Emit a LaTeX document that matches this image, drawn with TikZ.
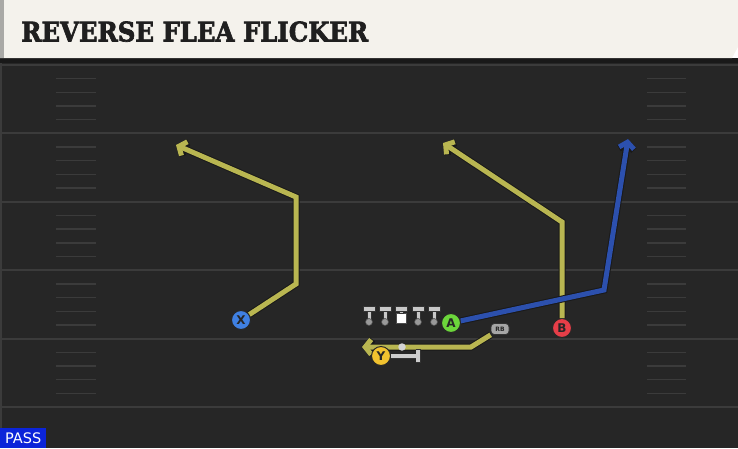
\documentclass[tikz,border=0pt]{standalone}
\usepackage{graphicx}
\usepackage{fontspec}
\setmainfont{DejaVu Serif}
\setsansfont{DejaVu Sans}
\newfontfamily\titlefont{DejaVu Serif Bold}[FakeBold=2.5]
\usetikzlibrary{arrows.meta, positioning}

\definecolor{headbg}{HTML}{F4F2EC}
\definecolor{headbar}{HTML}{A9A9A6}
\definecolor{fieldbg}{HTML}{262626}
\definecolor{fieldline}{HTML}{3B3B3B}
\definecolor{routeyellow}{HTML}{B9B651}
\definecolor{routeblue}{HTML}{2C50AE}
\definecolor{xblue}{HTML}{3F80E2}
\definecolor{agreen}{HTML}{6CD63B}
\definecolor{yyellow}{HTML}{F1C22F}
\definecolor{bred}{HTML}{E63E48}
\definecolor{linegray}{HTML}{C8C8C8}
\definecolor{passblue}{HTML}{0B24D9}

\tikzstyle{player} = [circle, draw=black!85, line width=1pt, minimum size=19pt, inner sep=0pt, text=black!85, font=\sffamily\bfseries\fontsize{12}{12}\selectfont]
\tikzstyle{route} = [line width=5pt, draw=routeyellow, -{Straight Barb[length=6pt, width=15pt]}, preaction={draw=black!90, line width=7pt}]
\tikzstyle{blueroute} = [route, draw=routeblue]
\tikzstyle{yardline} = [draw=fieldline, line width=2pt]
\tikzstyle{hash} = [draw=fieldline, line width=1.4pt]
\tikzstyle{lineman} = [draw=black!80, fill=linegray, line width=0.7pt]

\begin{document}
\begin{tikzpicture}[x=1pt, y=-1pt]
    \useasboundingbox (0,0) rectangle (738,448);

    % Field
    \fill[fieldbg] (0,58) rectangle (738,448);
    \fill[black!90] (0,58) rectangle (738,63);
    \fill[fieldline] (0,63) rectangle (2,448);
    \foreach \k in {0,...,5}
        \draw[yardline] (0,{65+68.4*\k}) -- (738,{65+68.4*\k});
    \foreach \j in {1,2,3,4,6,7,8,9,11,12,13,14,16,17,18,19,21,22,23,24} {
        \draw[hash] (56,{65+13.68*\j}) -- (96,{65+13.68*\j});
        \draw[hash] (647,{65+13.68*\j}) -- (686,{65+13.68*\j});
    }

    % Header
    \fill[headbg] (0,0) -- (738,0) -- (738,47) -- (732,58) -- (0,58) -- cycle;
    \fill[headbar] (0,0) rectangle (4,58);
    \node (title) [anchor=south west, inner sep=0pt, text=black!88] at (21,42)
        {\resizebox{347pt}{20pt}{\titlefont REVERSE FLEA FLICKER}};

    % Offensive line
    \foreach \x in {369,385,418,434} {
        \draw[lineman] (\x-2,311) rectangle (\x+2,320);
        \node[circle, fill=black!40, draw=black!70, line width=0.6pt, minimum size=7pt, inner sep=0pt] at (\x,322) {};
        \draw[lineman] (\x-6,306.5) rectangle (\x+6,311.5);
    }
    \node (center) [rectangle, fill=white, draw=black!70, line width=0.6pt, minimum size=9.5pt, inner sep=0pt] at (401.5,318.5) {};
    \draw[lineman] (399.5,311) rectangle (403.5,313.8);
    \draw[lineman] (395.5,306) rectangle (407.5,311);

    % Skill players
    \node (x) [player, fill=xblue] at (241,320) {X};
    \node (a) [player, fill=agreen] at (451,323) {A};
    \node (b) [player, fill=bred] at (562,328) {B};
    \node (rb) [rectangle, rounded corners=3.5pt, fill=black!35, draw=black!80, line width=0.7pt, minimum width=18pt, minimum height=11pt, inner sep=0pt, text=black!85, font=\sffamily\bfseries\fontsize{6}{6}\selectfont] at (500,329) {RB};

    % Route turns and ends
    \coordinate (x_cut) at (296,284);
    \coordinate (x_top) at (296,197);
    \coordinate (x_end) at (176,145);
    \coordinate (b_top) at (562,222);
    \coordinate (b_end) at (443,143);
    \coordinate (a_cut) at (604,290);
    \coordinate (a_end) at (628,139);
    \coordinate (rb_cut) at (471,347);
    \coordinate (rb_end) at (362,347);
    \coordinate (y_block) at (418,356);

    % Routes
    \draw [route] (x) -- (x_cut) -- (x_top) -- (x_end);
    \draw [route] (b) -- (b_top) -- (b_end);
    \draw [blueroute] (a) -- (a_cut) -- (a_end);
    \draw [route] (rb.south west) -- (rb_cut) -- (rb_end);

    % Pass protection
    \node (y) [player, fill=yyellow] at (381,356) {Y};
    \draw [draw=black!80, line width=5pt] (y) -- (y_block);
    \draw [draw=black!80, line width=5pt] ([yshift=-7pt]y_block) -- ([yshift=7pt]y_block);
    \draw [draw=linegray!90, line width=3.4pt] (y) -- (y_block);
    \draw [draw=linegray!90, line width=3.4pt] ([yshift=-6pt]y_block) -- ([yshift=6pt]y_block);
    \node (qb) [circle, fill=linegray!80, minimum size=7.5pt, inner sep=0pt] at (402,347) {};

    % Play type
    \node (pass) [rectangle, fill=passblue, anchor=north west, minimum width=46pt, minimum height=20pt, inner sep=0pt, text=white, font=\sffamily\fontsize{14.5}{14.5}\selectfont] at (0,428) {PASS};
\end{tikzpicture}
\end{document}
